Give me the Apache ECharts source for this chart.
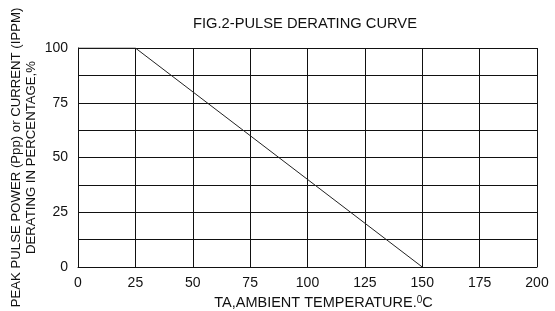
<!DOCTYPE html>
<html>
<head>
<meta charset="utf-8">
<script src="https://cdn.jsdelivr.net/npm/echarts@6/dist/echarts.min.js"></script>
<style>
html, body { margin: 0; padding: 0; background: #fff; }
#chart { width: 555px; height: 311px; }
</style>
</head>
<body>
<div id="chart"></div>
<script>
var temps = [0, 25, 150];        // ambient temperature, C
var derating = [100, 100, 0];    // derating, %

var points = [];
for (var i = 0; i < temps.length; i++) {
    points.push([temps[i], derating[i]]);
}

var font = '"Liberation Sans", Arial, sans-serif';
var myChart = echarts.init(document.getElementById('chart'));
myChart.setOption({
    animation: false,
    title: {
        text: 'FIG.2-PULSE DERATING CURVE',
        left: 300,
        textAlign: 'center',
        top: 11,
        textStyle: {fontFamily: font, fontSize: 14.7, fontWeight: 'normal', color: '#111'}
    },
    grid: {left: 78, right: 18, top: 48, bottom: 44, outerBoundsMode: 'none'},
    xAxis: {
        type: 'value',
        min: 0,
        max: 200,
        interval: 25,
        name: '{t|TA,AMBIENT TEMPERATURE.}{s|0}{t|C}',
        nameLocation: 'middle',
        nameGap: 22,
        nameTextStyle: {
            padding: [0, 0, 0, 32],
            rich: {
                t: {fontFamily: font, fontSize: 14.5, color: '#111'},
                s: {fontFamily: font, fontSize: 10, color: '#111', verticalAlign: 'top', padding: [0, 0, 7, 0]}
            }
        },
        axisLine: {lineStyle: {color: '#111', width: 1}},
        axisTick: {show: false},
        axisLabel: {margin: 9, fontFamily: font, fontSize: 14, color: '#111'},
        splitLine: {show: true, lineStyle: {color: '#111', width: 1}}
    },
    yAxis: {
        type: 'value',
        min: 0,
        max: 100,
        interval: 12.5,
        name: 'PEAK PULSE POWER (Ppp) or CURRENT (IPPM)\nDERATING IN PERCENTAGE,%',
        nameLocation: 'middle',
        nameRotate: 90,
        nameGap: 39,
        nameMoveOverlap: false,
        nameTextStyle: {fontFamily: font, fontSize: 13.2, color: '#111', lineHeight: 15},
        axisLine: {show: true, lineStyle: {color: '#111', width: 1}},
        axisTick: {show: false},
        axisLabel: {
            margin: 10,
            fontFamily: font,
            fontSize: 14,
            color: '#111',
            formatter: function (v) { return v % 25 === 0 ? v : ''; }
        },
        splitLine: {show: true, lineStyle: {color: '#111', width: 1}}
    },
    series: [
        {
            type: 'line',
            data: points,
            symbol: 'none',
            lineStyle: {color: '#222', width: 1}
        }
    ]
});
</script>
</body>
</html>
